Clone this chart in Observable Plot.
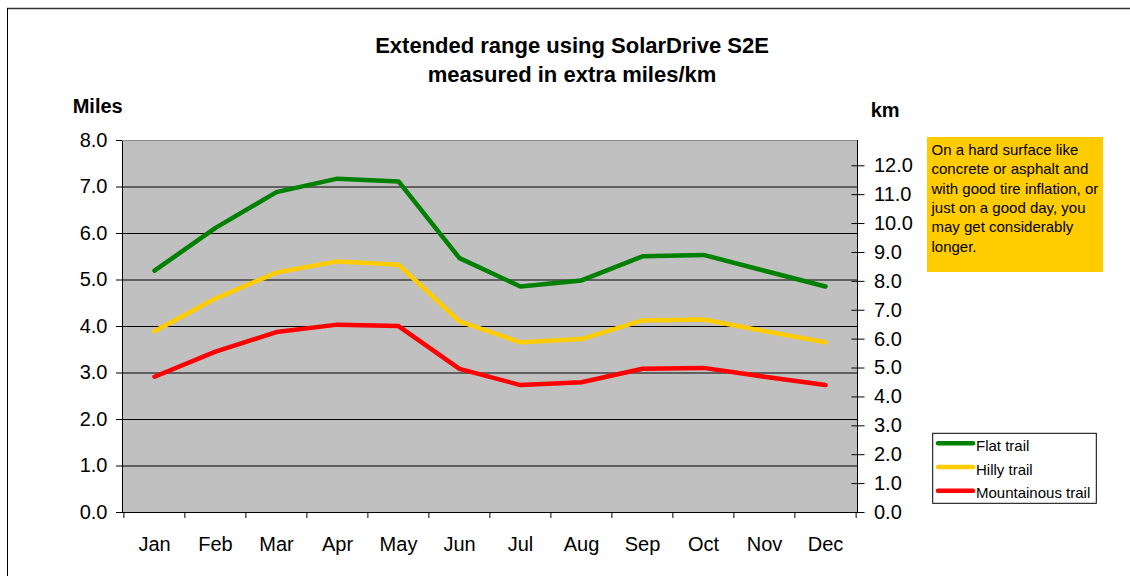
<!DOCTYPE html>
<html><head><meta charset="utf-8">
<script src="https://cdn.jsdelivr.net/npm/d3@7"></script>
<script src="https://cdn.jsdelivr.net/npm/@observablehq/plot@0.6"></script>
<style>
body{margin:0;background:#fff;font-family:"Liberation Sans",Arial,sans-serif;}
#wrap{position:relative;width:1130px;height:576px;overflow:hidden;background:#fff;}
#wrap > svg{position:absolute;left:0;top:0;}
</style></head><body>
<div id="wrap"></div>
<script>
const months = ["Jan","Feb","Mar","Apr","May","Jun","Jul","Aug","Sep","Oct","Nov","Dec"];
const flatTrail = [5.20, 6.12, 6.89, 7.18, 7.12, 5.47, 4.86, 4.99, 5.51, 5.54, 5.20, 4.86];
const hillyTrail = [3.90, 4.60, 5.16, 5.40, 5.33, 4.11, 3.66, 3.73, 4.13, 4.15, 3.90, 3.66];
const mountainousTrail = [2.92, 3.46, 3.88, 4.04, 4.01, 3.09, 2.74, 2.80, 3.09, 3.11, 2.92, 2.74];
const seriesNames = ["Flat trail","Hilly trail","Mountainous trail"];
const seriesColors = ["#008000","#FFCC00","#FF0000"];
const mileTicks = [0,1,2,3,4,5,6,7,8];
const kmTicks = [0,1,2,3,4,5,6,7,8,9,10,11,12];
const KM_PER_MILE = 1.609344;
const titleLines = ["Extended range using SolarDrive S2E","measured in extra miles/km"];
const noteLines = ["On a hard surface like","concrete or asphalt and","with good tire inflation, or","just on a good day, you","may get considerably","longer."];

const seriesValues = [flatTrail, hillyTrail, mountainousTrail];
const data = seriesNames.flatMap((name, s) => seriesValues[s].map((v, i) => ({month: months[i], value: v, series: name})));

const W = 1130, H = 576, mL = 122, mR = 273, mT = 140, mB = 64;
const bw = (W - mL - mR) / months.length;
const FONT = '"Liberation Sans", Arial, sans-serif';

const chart = Plot.plot({
  width: W, height: H,
  marginLeft: mL, marginRight: mR, marginTop: mT, marginBottom: mB,
  style: {fontFamily: FONT, fontSize: "20px", color: "#000", background: "transparent", overflow: "visible"},
  x: {type: "point", domain: months, padding: 0.5, label: null},
  y: {domain: [0, 8], label: null},
  color: {domain: seriesNames, range: seriesColors},
  marks: [
    Plot.frame({fill: "#C0C0C0", stroke: "#000"}),
    Plot.ruleY(mileTicks.filter(d => d > 0 && d < 8), {stroke: "#000", strokeWidth: 1}),
    Plot.ruleY([8], {stroke: "#8a8a8a", strokeWidth: 1.2}),
    Plot.axisY(mileTicks, {anchor: "left", tickSize: 6, tickPadding: 9, tickFormat: d => d.toFixed(1), label: null, fontSize: 20, stroke: "#000"}),
    Plot.axisY(kmTicks.map(k => k / KM_PER_MILE), {anchor: "right", tickSize: 13, dx: -6.5, tickPadding: 10,
      tickFormat: d => (Math.round(d * KM_PER_MILE * 10) / 10).toFixed(1), label: null, fontSize: 20, stroke: "#000"}),
    Plot.axisX(months, {anchor: "bottom", tickSize: 0, tickPadding: 24, label: null, fontSize: 20}),
    Plot.axisX(months, {anchor: "bottom", tickSize: 6, dx: -bw / 2, tickFormat: () => "", label: null, stroke: "#000"}),
    Plot.axisX([months[months.length - 1]], {anchor: "bottom", tickSize: 6, dx: bw / 2, tickFormat: () => "", label: null, stroke: "#000"}),
    Plot.line(data, {x: "month", y: "value", z: "series", stroke: "series", strokeWidth: 4.5, strokeLinejoin: "round", strokeLinecap: "round"})
  ]
});
const wrap = document.getElementById("wrap");
wrap.appendChild(chart);

// Overlay: frame border, title, axis titles, note box, legend
const svg = d3.select(wrap).append("svg").attr("width", W).attr("height", H)
  .style("font-family", FONT);
svg.append("line").attr("x1", 7).attr("x2", W).attr("y1", 8.5).attr("y2", 8.5).attr("stroke", "#333").attr("stroke-width", 1.5);
svg.append("line").attr("x1", 7.5).attr("x2", 7.5).attr("y1", 8).attr("y2", H).attr("stroke", "#000").attr("stroke-width", 1);

const title = svg.append("text").attr("text-anchor", "middle").attr("font-weight", "bold").attr("font-size", 22).attr("fill", "#000");
titleLines.forEach((t, i) => title.append("tspan").attr("x", 572).attr("y", 52.7 + i * 29).text(t));

svg.append("text").attr("x", 72.7).attr("y", 112.7).attr("font-weight", "bold").attr("font-size", 20).text("Miles");
svg.append("text").attr("x", 870.7).attr("y", 116.7).attr("font-weight", "bold").attr("font-size", 20).text("km");

svg.append("rect").attr("x", 927).attr("y", 137).attr("width", 176).attr("height", 135).attr("fill", "#FFCC00");
const note = svg.append("text").attr("font-size", 15).attr("fill", "#000");
noteLines.forEach((t, i) => note.append("tspan").attr("x", 931.5).attr("y", 155 + i * 19.3).text(t));

svg.append("rect").attr("x", 932.7).attr("y", 433.3).attr("width", 163.6).attr("height", 70).attr("fill", "#fff").attr("stroke", "#000").attr("stroke-width", 1);
seriesNames.forEach((name, i) => {
  const ly = 443.3 + i * 23.7;
  svg.append("line").attr("x1", 938).attr("x2", 973).attr("y1", ly).attr("y2", ly)
    .attr("stroke", seriesColors[i]).attr("stroke-width", 4.5).attr("stroke-linecap", "round");
  svg.append("text").attr("x", 976).attr("y", ly + 7.7).attr("font-size", 15).attr("fill", "#000").text(name);
});
</script>
</body></html>
